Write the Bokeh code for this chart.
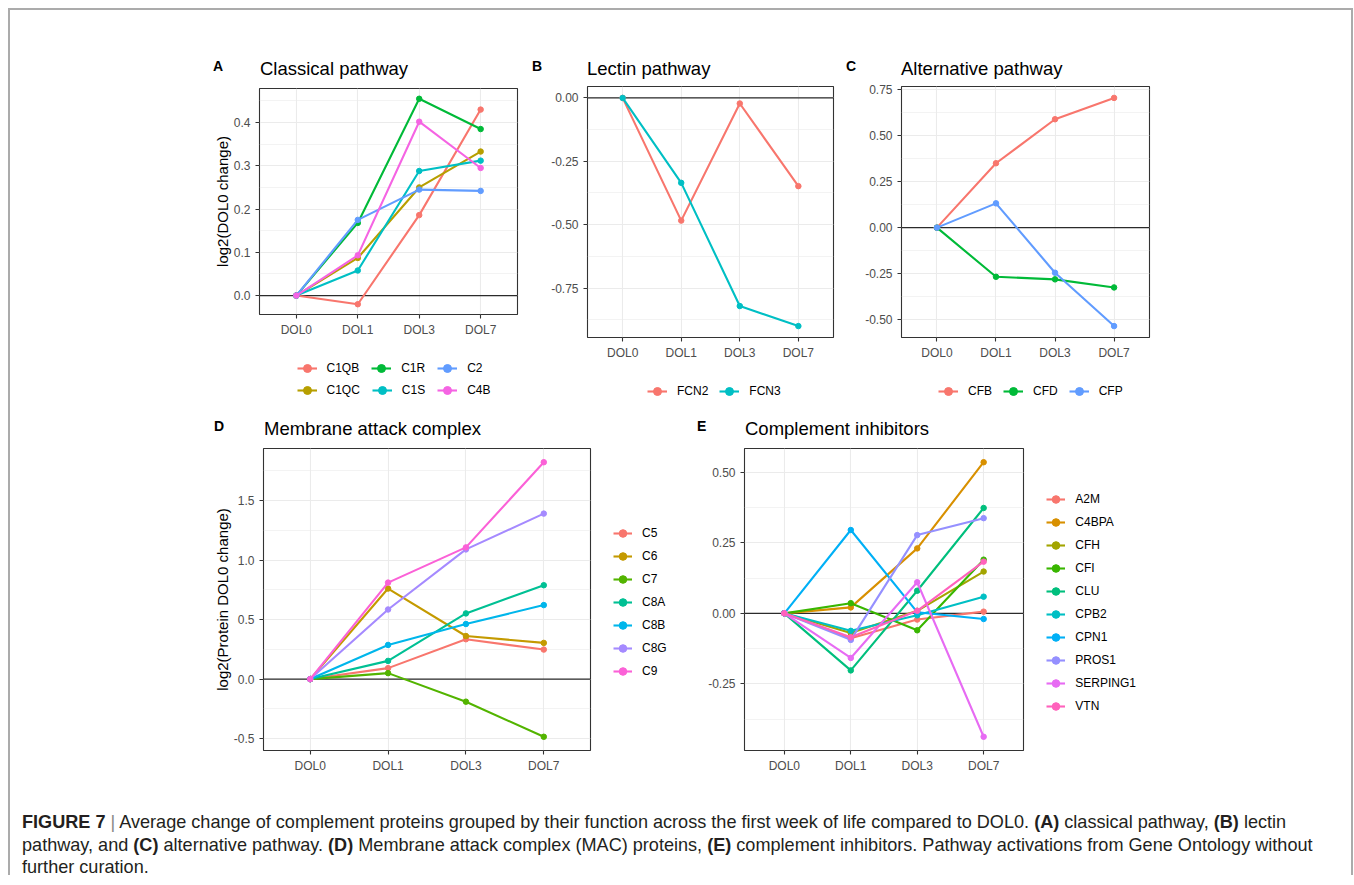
from bokeh.plotting import figure
from bokeh.models import (Range1d, FixedTicker, Legend, LegendItem, Span, Div,
                          Spacer, PrintfTickFormatter)
from bokeh.layouts import column, row
from bokeh.embed import file_html
from bokeh.resources import INLINE

DAYS = ["DOL0", "DOL1", "DOL3", "DOL7"]

# (A) Classical pathway
A_NAMES = ["C1QB", "C1QC", "C1R", "C1S", "C2", "C4B"]
C1QB = [0.0, -0.020, 0.186, 0.430]
C1QC = [0.0, 0.087, 0.250, 0.333]
C1R = [0.0, 0.168, 0.455, 0.385]
C1S = [0.0, 0.058, 0.288, 0.312]
C2 = [0.0, 0.175, 0.245, 0.242]
C4B = [0.0, 0.093, 0.402, 0.295]

# (B) Lectin pathway
B_NAMES = ["FCN2", "FCN3"]
FCN2 = [0.0, -0.484, -0.022, -0.348]
FCN3 = [0.0, -0.335, -0.821, -0.900]

# (C) Alternative pathway
C_NAMES = ["CFB", "CFD", "CFP"]
CFB = [0.0, 0.350, 0.589, 0.705]
CFD = [0.0, -0.267, -0.281, -0.325]
CFP = [0.0, 0.132, -0.245, -0.535]

# (D) Membrane attack complex
D_NAMES = ["C5", "C6", "C7", "C8A", "C8B", "C8G", "C9"]
C5 = [0.0, 0.092, 0.335, 0.248]
C6 = [0.0, 0.761, 0.362, 0.304]
C7 = [0.0, 0.050, -0.190, -0.485]
C8A = [0.0, 0.153, 0.552, 0.789]
C8B = [0.0, 0.287, 0.463, 0.622]
C8G = [0.0, 0.585, 1.090, 1.391]
C9 = [0.0, 0.811, 1.107, 1.823]

# (E) Complement inhibitors
E_NAMES = ["A2M", "C4BPA", "CFH", "CFI", "CLU", "CPB2", "CPN1", "PROS1", "SERPING1", "VTN"]
A2M = [0.0, -0.088, -0.022, 0.006]
C4BPA = [0.0, 0.021, 0.230, 0.535]
CFH = [0.0, -0.070, 0.009, 0.148]
CFI = [0.0, 0.036, -0.060, 0.190]
CLU = [0.0, -0.202, 0.080, 0.373]
CPB2 = [0.0, -0.062, -0.007, 0.059]
CPN1 = [0.0, 0.295, 0.004, -0.020]
PROS1 = [0.0, -0.094, 0.277, 0.337]
SERPING1 = [0.0, -0.158, 0.110, -0.437]
VTN = [0.0, -0.085, 0.009, 0.183]

A_TICKS = [0.0, 0.1, 0.2, 0.3, 0.4]
B_TICKS = [-0.75, -0.5, -0.25, 0.0]
C_TICKS = [-0.5, -0.25, 0.0, 0.25, 0.5, 0.75]
D_TICKS = [-0.5, 0.0, 0.5, 1.0, 1.5]
E_TICKS = [-0.25, 0.0, 0.25, 0.5]

HUE2 = ["#F8766D", "#00BFC4"]
HUE3 = ["#F8766D", "#00BA38", "#619CFF"]
HUE6 = ["#F8766D", "#B79F00", "#00BA38", "#00BFC4", "#619CFF", "#F564E3"]
HUE7 = ["#F8766D", "#C49A00", "#53B400", "#00C094", "#00B6EB", "#A58AFF", "#FB61D7"]
HUE10 = ["#F8766D", "#D89000", "#A3A500", "#39B600", "#00BF7D", "#00BFC4",
         "#00B0F6", "#9590FF", "#E76BF3", "#FF62BC"]

FONT = "Liberation Sans"
XS = [i + 1 for i in range(len(DAYS))]
LINE_W = 2.1
PT_SIZE = 5.5


def make_panel(series, colors, yticks, fmt, borders, frame, ylabel=None):
    mbl, mbr, mbt, mbb = borders
    fw, fh = frame
    allv = [v for s in series for v in s] + [0.0]
    lo, hi = min(allv), max(allv)
    pad = 0.05 * (hi - lo)

    p = figure(width=mbl + fw + mbr, height=mbt + fh + mbb, title=None,
               min_border_left=mbl, min_border_right=mbr,
               min_border_top=mbt, min_border_bottom=mbb,
               x_range=Range1d(0.4, len(DAYS) + 0.6), y_range=Range1d(lo - pad, hi + pad),
               output_backend="svg", toolbar_location=None)
    p.background_fill_color = "white"
    p.border_fill_color = "white"
    p.outline_line_color = "#333333"
    p.outline_line_width = 1.1

    step = yticks[1] - yticks[0]
    minors = [yticks[0] - step / 2] + [t + step / 2 for t in yticks]
    yt = FixedTicker(ticks=yticks, minor_ticks=minors)
    xt = FixedTicker(ticks=XS, minor_ticks=[])

    p.xaxis.ticker = xt
    p.xaxis.major_label_overrides = {x: d for x, d in zip(XS, DAYS)}
    p.yaxis.ticker = yt
    p.yaxis.formatter = PrintfTickFormatter(format=fmt)
    for ax in (p.xaxis[0], p.yaxis[0]):
        ax.axis_line_color = None
        ax.major_tick_line_color = "#333333"
        ax.major_tick_line_width = 1.1
        ax.major_tick_out = 4
        ax.major_tick_in = 0
        ax.minor_tick_out = 0
        ax.minor_tick_in = 0
        ax.major_label_text_font = FONT
        ax.major_label_text_font_size = "12px"
        ax.major_label_text_color = "#4D4D4D"
    p.xaxis.major_label_standoff = 4
    p.yaxis.major_label_standoff = 5
    if ylabel:
        p.yaxis.axis_label = ylabel
        p.yaxis.axis_label_text_font = FONT
        p.yaxis.axis_label_text_font_size = "15px"
        p.yaxis.axis_label_text_font_style = "normal"
        p.yaxis.axis_label_text_color = "black"
        p.yaxis.axis_label_standoff = 0

    p.xgrid.ticker = xt
    p.ygrid.ticker = yt
    for g in (p.xgrid[0], p.ygrid[0]):
        g.grid_line_color = "#EBEBEB"
        g.grid_line_width = 1.1
    p.ygrid.minor_grid_line_color = "#EBEBEB"
    p.ygrid.minor_grid_line_width = 0.6

    p.add_layout(Span(location=0, dimension="width", line_color="#2b2b2b",
                      line_width=1.3, level="underlay"))

    for vals, col in zip(series, colors):
        p.line(XS, vals, line_color=col, line_width=LINE_W)
        p.scatter(XS, vals, size=PT_SIZE, fill_color=col, line_color=col)
    return p


def legend_fig(names, series, colors, width, height, groups):
    """A key-only figure: the legend sits inside its frame; the series' glyphs
    fall outside its (empty) ranges, so only the legend keys are visible."""
    lf = figure(width=width, height=height, title=None, min_border=0,
                min_border_left=0, min_border_right=0, min_border_top=0, min_border_bottom=0,
                x_range=Range1d(-20, -19), y_range=Range1d(-20, -19),
                x_axis_location=None, y_axis_location=None,
                output_backend="svg", toolbar_location=None)
    lf.outline_line_color = None
    lf.background_fill_color = "white"
    lf.border_fill_color = "white"
    for g in lf.grid:
        g.visible = False
    rends = []
    for vals, col in zip(series, colors):
        lr = lf.line(XS, vals, line_color=col, line_width=LINE_W)
        sr = lf.scatter(XS, vals, size=PT_SIZE, fill_color=col, line_color=col)
        rends.append([lr, sr])
    for idx, loc, orient, spacing, glyph_w in groups:
        items = [LegendItem(label=names[i], renderers=rends[i]) for i in idx]
        lf.add_layout(Legend(items=items, location=loc, orientation=orient, spacing=spacing,
                             glyph_width=glyph_w, glyph_height=20, label_height=20,
                             label_standoff=10, padding=4, margin=0,
                             border_line_color=None, background_fill_alpha=0,
                             label_text_font=FONT, label_text_font_size="12px",
                             label_text_color="black"))
    return lf


def header(width, height, entries):
    spans = []
    for left, top, text, size, bold in entries:
        spans.append(
            f'<span style="position:absolute;left:{left}px;top:{top}px;'
            f"font-family:'Liberation Sans',Arial,sans-serif;font-size:{size}px;"
            f'line-height:{size}px;font-weight:{"bold" if bold else "normal"};'
            f'color:#000;white-space:nowrap;">{text}</span>')
    html = (f'<div style="position:relative;width:{width}px;height:{height}px;margin:0;padding:0;">'
            + "".join(spans) + "</div>")
    return Div(text=html, width=width, height=height, margin=0)


A_SER = [C1QB, C1QC, C1R, C1S, C2, C4B]
B_SER = [FCN2, FCN3]
C_SER = [CFB, CFD, CFP]
D_SER = [C5, C6, C7, C8A, C8B, C8G, C9]
E_SER = [A2M, C4BPA, CFH, CFI, CLU, CPB2, CPN1, PROS1, SERPING1, VTN]

# top row: page y 80 -> 415 (key figures share their panel's frame columns)
pA = make_panel(A_SER, HUE6, A_TICKS, "%.1f", (89, 11, 8, 28), (258, 226),
                ylabel="log2(DOL0 change)")
lA = legend_fig(A_NAMES, A_SER, HUE6, 358, 73,
                [([0, 2, 4], (37.5, 36.7), "horizontal", 12, 20),
                 ([1, 3, 5], (37.5, 15.5), "horizontal", 12, 20)])
pB = make_panel(B_SER, HUE2, B_TICKS, "%.2f", (59, 10, 6, 25), (246, 251))
lB = legend_fig(B_NAMES, B_SER, HUE2, 315, 53,
                [([0, 1], (60, 14.5), "horizontal", 11, 20)])
pC = make_panel(C_SER, HUE3, C_TICKS, "%.2f", (58, 12, 6, 25), (248, 251))
lC = legend_fig(C_NAMES, C_SER, HUE3, 318, 53,
                [([0, 1, 2], (37, 14.5), "horizontal", 11, 20)])

# bottom row: page y 445 -> 775
pD = make_panel(D_SER, HUE7, D_TICKS, "%.1f", (93, 10, 3, 24), (327, 303),
                ylabel="log2(Protein DOL0 change)")
lD = legend_fig(D_NAMES, D_SER, HUE7, 100, 330,
                [(list(range(7)), (13, 69), "vertical", 3, 19)])
pE = make_panel(E_SER, HUE10, E_TICKS, "%.2f", (44, 10, 3, 24), (279, 303))
lE = legend_fig(E_NAMES, E_SER, HUE10, 127, 330,
                [(list(range(10)), (13.3, 33.6), "vertical", 3, 19)])

head1 = header(1341, 70, [(203, 48.6, "A", 14, True), (250, 49.8, "Classical pathway", 18.5, False),
                          (522, 48.6, "B", 14, True), (577, 49.8, "Lectin pathway", 18.5, False),
                          (836, 48.6, "C", 14, True), (891, 49.8, "Alternative pathway", 18.5, False)])
head2 = header(1341, 30, [(204, 4.1, "D", 14, True), (254, 5.3, "Membrane attack complex", 18.5, False),
                          (687, 4.1, "E", 14, True), (735, 5.3, "Complement inhibitors", 18.5, False)])

caption_html = (
    '<div style="font-family: \'Liberation Sans\', Arial, sans-serif; font-size:18.1px; '
    'line-height:22.5px; color:#231f20; white-space:nowrap; padding:36px 0 0 12px;">'
    '<b>FIGURE 7</b> <span style="color:#888">|</span> Average change of complement proteins grouped by their '
    'function across the first week of life compared to DOL0. <b>(A)</b> classical pathway, '
    '<b>(B)</b> lectin<br>pathway, and <b>(C)</b> alternative pathway. <b>(D)</b> Membrane attack '
    'complex (MAC) proteins, <b>(E)</b> complement inhibitors. Pathway activations from Gene '
    'Ontology without<br>further curation.</div>'
)
caption = Div(text=caption_html, width=1341, height=100, margin=0)

BORDER = {"background-color": "#ababab"}
content = column(
    Spacer(width=1341, height=2, styles=BORDER),
    head1,
    row(Spacer(width=160, height=335), column(pA, lA), column(pB, lB), column(pC, lC)),
    head2,
    row(Spacer(width=160, height=330), pD, lD, pE, lE),
    caption,
)
framed = row(Spacer(width=2, height=867, styles=BORDER), content,
             Spacer(width=2, height=867, styles=BORDER))
layout = column(Spacer(width=1345, height=8), row(Spacer(width=8, height=867), framed))

open("out.html", "w").write(file_html(layout, INLINE))
